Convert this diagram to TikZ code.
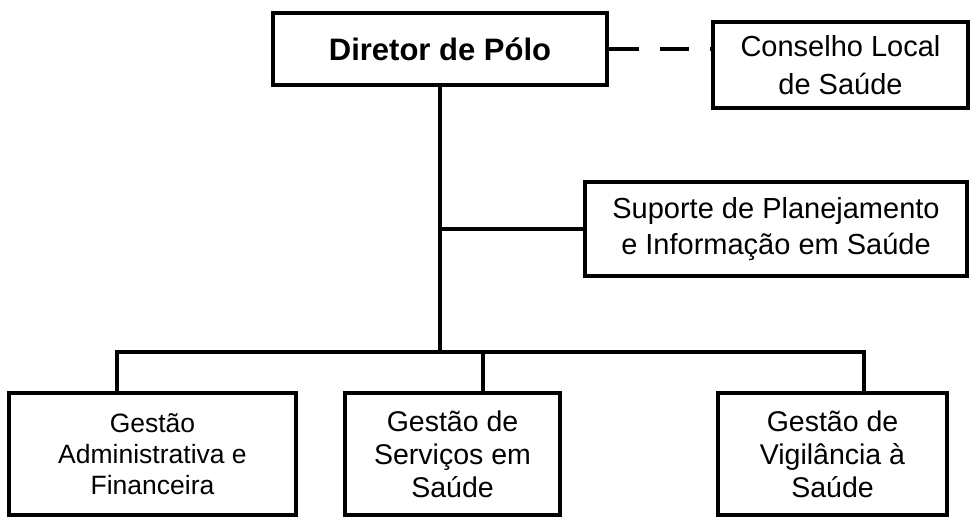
\documentclass[tikz,border=0pt]{standalone}
\usepackage{fontspec}
\setmainfont{Liberation Sans}
\tikzstyle{unit}=[draw,rectangle,line width=4pt,align=center,inner sep=0pt]
\tikzstyle{link}=[line width=3.6pt]

\begin{document}
\begin{tikzpicture}[x=1pt,y=-1pt]
    \useasboundingbox (0,0) rectangle (971,519);
    \node[unit,minimum width=334pt,minimum height=72pt,font=\fontsize{31}{36}\selectfont\bfseries] (dir) at (440,49) {Diretor de Pólo};
    \node[unit,minimum width=255pt,minimum height=86pt,font=\fontsize{29}{38}\selectfont] (cons) at (840.5,65) {Conselho Local\\de Saúde};
    \node[unit,minimum width=382pt,minimum height=94pt,font=\fontsize{29}{36}\selectfont] (sup) at (776,229) {Suporte de Planejamento\\e Informação em Saúde};
    \node[unit,minimum width=287pt,minimum height=122pt,font=\fontsize{26.5}{31}\selectfont] (g1) at (152.5,454) {Gestão\\Administrativa e\\Financeira};
    \node[unit,minimum width=215pt,minimum height=122pt,font=\fontsize{28.5}{33}\selectfont] (g2) at (452.5,454) {Gestão de\\Serviços em\\Saúde};
    \node[unit,minimum width=229pt,minimum height=122pt,font=\fontsize{28.5}{33}\selectfont] (g3) at (832.5,454) {Gestão de\\Vigilância à\\Saúde};

    \coordinate (b1) at (117,352);
    \coordinate (b2) at (483,352);
    \coordinate (b3) at (864,352);

    \draw[link,dash pattern=on 30pt off 21pt on 29pt off 21pt] (dir.east) -- (dir.east -| cons.west);
    \draw[link] (dir.south) -- (dir.south |- b1);
    \draw[link] (dir.south |- sup.west) -- (sup.west);
    \draw[link] (b1 |- g1.north) -- (b1) -- (b3) -- (b3 |- g3.north);
    \draw[link] (b2) -- (b2 |- g2.north);
\end{tikzpicture}
\end{document}
